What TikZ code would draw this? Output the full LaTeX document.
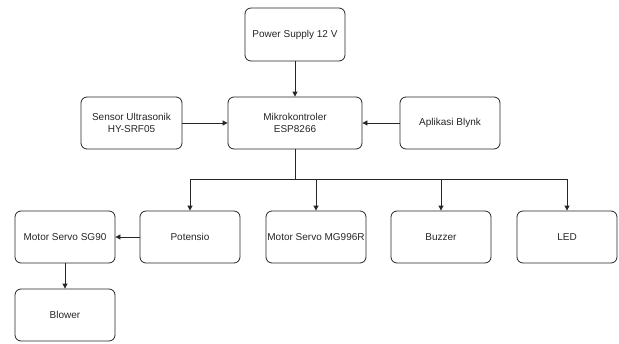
\documentclass[tikz,border=0pt]{standalone}
\usepackage{fontspec}
\setmainfont{Liberation Sans}
\usetikzlibrary{arrows.meta}
\begin{document}
\begin{tikzpicture}[x=1pt,y=-1pt,
  blk/.style={draw=black!85, line width=0.8pt, rounded corners=6pt, inner sep=0pt,
    minimum width=100pt, minimum height=52pt, align=center,
    font=\fontsize{10}{12.7}\selectfont, text=black!85},
  arr/.style={draw=black!85, line width=0.8pt, -{Triangle[length=5pt,width=5pt]}},
  ln/.style={draw=black!85, line width=0.8pt}]
\useasboundingbox (0,0) rectangle (619,343);
\node[blk, minimum height=53pt] (ps) at (295,34.5) {Power Supply 12 V};
\node[blk, minimum width=101pt] (sensor) at (131.5,123) {Sensor Ultrasonik\\HY-SRF05};
\node[blk, minimum width=134pt] (mikro) at (295,123) {Mikrokontroler\\ESP8266};
\node[blk] (blynk) at (450,123) {Aplikasi Blynk};
\node[blk] (sg90) at (65,237) {Motor Servo SG90};
\node[blk] (pot) at (190,237) {Potensio};
\node[blk] (mg) at (316,237) {Motor Servo MG996R};
\node[blk] (buzz) at (441,237) {Buzzer};
\node[blk] (led) at (567,237) {LED};
\node[blk] (blower) at (65,315) {Blower};
\coordinate (j) at (295,179);
\draw[arr] (ps) -- (mikro);
\draw[arr] (sensor) -- (mikro);
\draw[arr] (blynk) -- (mikro);
\draw[ln] (mikro.south) -- (j);
\draw[arr] (j) -| (pot.north);
\draw[arr] (j) -| (mg.north);
\draw[arr] (j) -| (buzz.north);
\draw[arr] (j) -| (led.north);
\draw[arr] (pot) -- (sg90);
\draw[arr] (sg90) -- (blower);
\end{tikzpicture}
\end{document}
